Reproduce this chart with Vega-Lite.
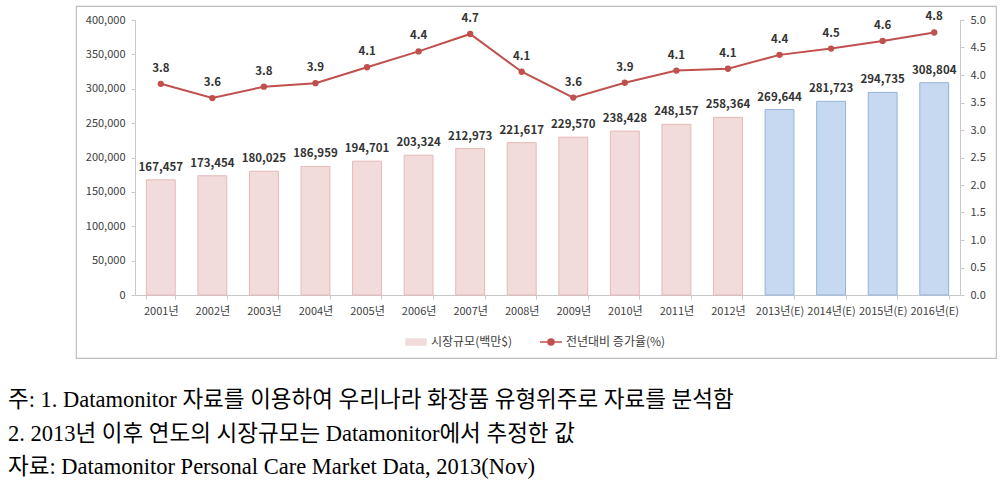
{
  "$schema": "https://vega.github.io/schema/vega-lite/v6.json",
  "width": 920,
  "height": 352,
  "autosize": {"type": "none"},
  "padding": {"left": 76, "top": 6, "right": 5, "bottom": 131},
  "background": "white",
  "config": {
    "font": "Noto Sans CJK KR",
    "view": {"stroke": "#bdbdbd", "strokeWidth": 1.2, "fill": "white"},
    "axis": {"grid": false, "labelColor": "#404040", "labelFontSize": 11, "tickColor": "#c8c8c8", "tickSize": 4, "domain": true, "domainColor": "#c8c8c8", "title": null, "labelOverlap": false}
  },
  "title": {
    "text": [
      "주: 1. Datamonitor 자료를 이용하여 우리나라 화장품 유형위주로 자료를 분석함",
      "2. 2013년 이후 연도의 시장규모는 Datamonitor에서 추정한 값",
      "자료: Datamonitor Personal Care Market Data, 2013(Nov)"
    ],
    "orient": "bottom",
    "anchor": "start",
    "frame": "group",
    "dx": -68,
    "offset": 49,
    "baseline": "alphabetic",
    "font": "Liberation Serif, Noto Sans CJK KR",
    "fontSize": 22.5,
    "fontWeight": "normal",
    "color": "#000000",
    "lineHeight": 33.5
  },
  "data": {
    "values": [
      {"year": "2001년", "size": 167457, "rate": 3.84, "series": "시장규모(백만$)"},
      {"year": "2002년", "size": 173454, "rate": 3.581, "series": "시장규모(백만$)"},
      {"year": "2003년", "size": 180025, "rate": 3.788, "series": "시장규모(백만$)"},
      {"year": "2004년", "size": 186959, "rate": 3.852, "series": "시장규모(백만$)"},
      {"year": "2005년", "size": 194701, "rate": 4.141, "series": "시장규모(백만$)"},
      {"year": "2006년", "size": 203324, "rate": 4.429, "series": "시장규모(백만$)"},
      {"year": "2007년", "size": 212973, "rate": 4.746, "series": "시장규모(백만$)"},
      {"year": "2008년", "size": 221617, "rate": 4.059, "series": "시장규모(백만$)"},
      {"year": "2009년", "size": 229570, "rate": 3.589, "series": "시장규모(백만$)"},
      {"year": "2010년", "size": 238428, "rate": 3.859, "series": "시장규모(백만$)"},
      {"year": "2011년", "size": 248157, "rate": 4.081, "series": "시장규모(백만$)"},
      {"year": "2012년", "size": 258364, "rate": 4.113, "series": "시장규모(백만$)"},
      {"year": "2013년(E)", "size": 269644, "rate": 4.366, "series": "추정"},
      {"year": "2014년(E)", "size": 281723, "rate": 4.48, "series": "추정"},
      {"year": "2015년(E)", "size": 294735, "rate": 4.619, "series": "추정"},
      {"year": "2016년(E)", "size": 308804, "rate": 4.773, "series": "추정"}
    ]
  },
  "layer": [
    {
      "layer": [
        {
          "mark": {"type": "bar", "strokeWidth": 1},
          "encoding": {
            "x": {
              "field": "year", "type": "nominal", "sort": null,
              "scale": {"range": [59, 884], "paddingInner": 0.44, "paddingOuter": 0.22, "align": 0.5},
              "axis": {"offset": -63, "labelAngle": 0, "tickBand": "extent", "labelPadding": 6}
            },
            "y": {
              "field": "size", "type": "quantitative",
              "scale": {"domain": [0, 400000], "range": [289, 14], "nice": false, "zero": true},
              "axis": {"offset": -59, "values": [0, 50000, 100000, 150000, 200000, 250000, 300000, 350000, 400000], "labelExpr": "format(datum.value, ',')", "labelPadding": 6}
            },
            "y2": {"datum": 0},
            "color": {
              "field": "series", "type": "nominal",
              "scale": {"domain": ["시장규모(백만$)", "전년대비 증가율(%)", "추정"], "range": ["#f2dcdb", "#c0504d", "#c6d9f1"]},
              "legend": {
                "title": null,
                "orient": "none",
                "direction": "horizontal",
                "legendX": 329,
                "legendY": 325,
                "values": ["시장규모(백만$)", "전년대비 증가율(%)"],
                "labelFontSize": 12,
                "labelColor": "#404040",
                "labelOffset": 4,
                "columnPadding": 24,
                "symbolSize": 400,
                "encode": {
                  "symbols": {
                    "update": {
                      "shape": {"signal": "datum.value === '시장규모(백만$)' ? 'M-1,-0.3H1V0.3H-1Z' : 'M-1.1,0H1.1M0.3,0A0.3,0.3,0,1,1,-0.3,0A0.3,0.3,0,1,1,0.3,0Z'"},
                      "fill": {"signal": "datum.value === '시장규모(백만$)' ? '#f2dcdb' : '#c0504d'"},
                      "stroke": {"signal": "datum.value === '시장규모(백만$)' ? '#e6b9b8' : '#c0504d'"},
                      "strokeWidth": {"value": 1.5},
                      "fillOpacity": {"value": 1},
                      "size": {"value": 400}
                    }
                  }
                }
              }
            },
            "stroke": {
              "field": "series", "type": "nominal",
              "scale": {"domain": ["시장규모(백만$)", "추정"], "range": ["#e6b9b8", "#95b3d7"]},
              "legend": null
            }
          }
        },
        {
          "mark": {"type": "text", "dy": -12, "baseline": "middle", "fontWeight": "bold", "fontSize": 11.5, "color": "#333333"},
          "encoding": {
            "x": {"field": "year", "type": "nominal", "sort": null},
            "y": {"field": "size", "type": "quantitative"},
            "text": {"field": "size", "type": "quantitative", "format": ","}
          }
        }
      ]
    },
    {
      "layer": [
        {
          "mark": {"type": "line", "strokeWidth": 2, "point": {"filled": true, "size": 40}},
          "encoding": {
            "x": {"field": "year", "type": "nominal", "sort": null},
            "y": {
              "field": "rate", "type": "quantitative",
              "scale": {"domain": [0, 5], "range": [289, 14], "nice": false, "zero": true},
              "axis": {"orient": "right", "offset": -36, "values": [0, 0.5, 1, 1.5, 2, 2.5, 3, 3.5, 4, 4.5, 5], "labelExpr": "format(datum.value, '.1f')", "labelOverlap": false, "labelBound": false, "labelPadding": 6}
            },
            "color": {"datum": "전년대비 증가율(%)"}
          }
        },
        {
          "mark": {"type": "text", "dy": -15, "baseline": "middle", "fontWeight": "bold", "fontSize": 11.5, "color": "#333333"},
          "encoding": {
            "x": {"field": "year", "type": "nominal", "sort": null},
            "y": {"field": "rate", "type": "quantitative", "axis": {"orient": "right", "offset": -36, "values": [0, 0.5, 1, 1.5, 2, 2.5, 3, 3.5, 4, 4.5, 5], "labelExpr": "format(datum.value, '.1f')", "labelOverlap": false, "labelBound": false, "labelPadding": 6}},
            "text": {"field": "rate", "type": "quantitative", "format": ".1f"}
          }
        }
      ]
    }
  ],
  "resolve": {"scale": {"y": "independent"}}
}
